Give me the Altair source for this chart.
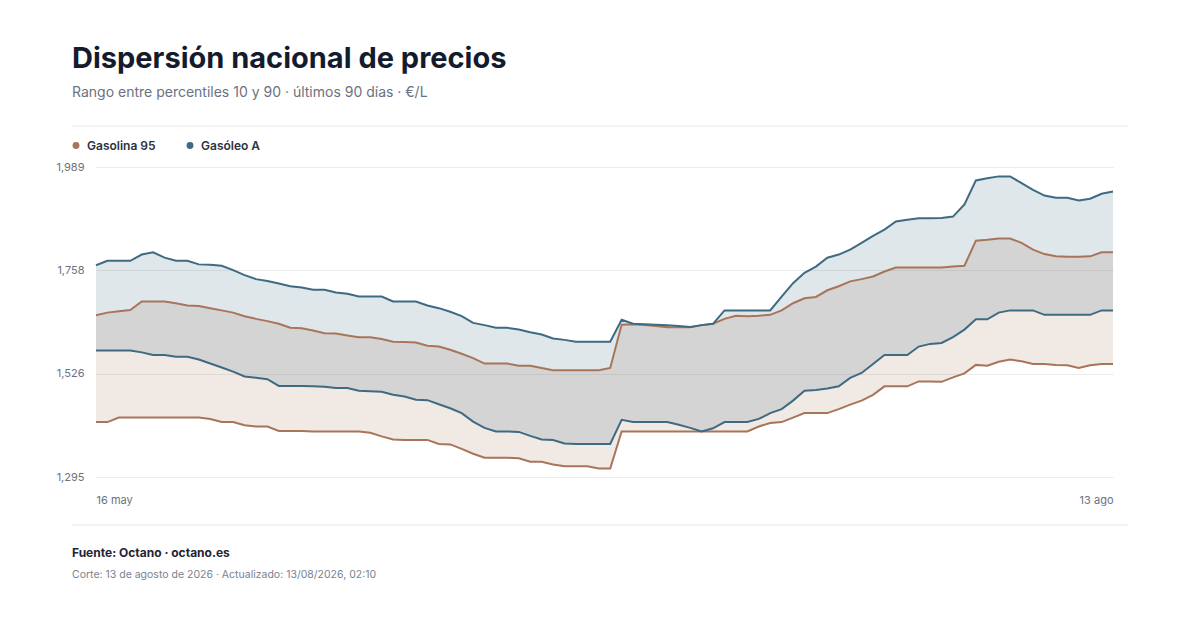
import altair as alt
import pandas as pd

# 90 daily points, 16 may -> 13 ago 2026
dates = pd.date_range("2026-05-16", periods=90, freq="D")

fuels = ["Gasolina 95", "Gasóleo A"]
fuel_colors = ["#a8745a", "#3e6a82"]

gasolina_p10 = [1.418, 1.418, 1.428, 1.428, 1.428, 1.428, 1.428, 1.428, 1.428, 1.428,
                1.425, 1.418, 1.418, 1.411, 1.408, 1.408, 1.398, 1.398, 1.398, 1.397,
                1.397, 1.397, 1.397, 1.397, 1.394, 1.386, 1.379, 1.378, 1.378, 1.378,
                1.369, 1.368, 1.358, 1.347, 1.338, 1.338, 1.338, 1.337, 1.329, 1.329,
                1.323, 1.319, 1.319, 1.319, 1.314, 1.314, 1.397, 1.397, 1.397, 1.397,
                1.397, 1.397, 1.397, 1.397, 1.397, 1.397, 1.397, 1.397, 1.408, 1.416,
                1.418, 1.428, 1.438, 1.438, 1.438, 1.447, 1.457, 1.466, 1.479, 1.498,
                1.498, 1.498, 1.509, 1.509, 1.508, 1.518, 1.527, 1.546, 1.544, 1.553,
                1.558, 1.554, 1.548, 1.548, 1.546, 1.545, 1.539, 1.545, 1.548, 1.548]

gasolina_p90 = [1.657, 1.663, 1.666, 1.669, 1.688, 1.688, 1.688, 1.684, 1.679, 1.678,
                1.673, 1.668, 1.663, 1.655, 1.649, 1.644, 1.638, 1.629, 1.628, 1.623,
                1.617, 1.616, 1.612, 1.608, 1.608, 1.604, 1.598, 1.597, 1.596, 1.589,
                1.587, 1.580, 1.571, 1.561, 1.549, 1.549, 1.549, 1.544, 1.544, 1.539,
                1.534, 1.534, 1.534, 1.534, 1.534, 1.539, 1.636, 1.637, 1.635, 1.633,
                1.630, 1.630, 1.630, 1.635, 1.638, 1.649, 1.656, 1.655, 1.656, 1.658,
                1.668, 1.684, 1.695, 1.698, 1.713, 1.722, 1.733, 1.738, 1.744, 1.755,
                1.764, 1.764, 1.764, 1.764, 1.764, 1.766, 1.768, 1.824, 1.826, 1.829,
                1.829, 1.819, 1.804, 1.794, 1.789, 1.788, 1.788, 1.789, 1.798, 1.798]

gasoleo_p10 = [1.578, 1.578, 1.578, 1.578, 1.574, 1.568, 1.568, 1.564, 1.564, 1.558,
               1.549, 1.540, 1.531, 1.520, 1.517, 1.514, 1.499, 1.499, 1.499, 1.498,
               1.497, 1.494, 1.494, 1.488, 1.487, 1.486, 1.479, 1.475, 1.468, 1.467,
               1.458, 1.449, 1.438, 1.419, 1.405, 1.397, 1.397, 1.396, 1.387, 1.379,
               1.378, 1.370, 1.369, 1.369, 1.369, 1.369, 1.423, 1.418, 1.418, 1.418,
               1.418, 1.412, 1.405, 1.397, 1.404, 1.418, 1.418, 1.418, 1.425, 1.438,
               1.447, 1.466, 1.488, 1.490, 1.493, 1.498, 1.517, 1.528, 1.548, 1.568,
               1.568, 1.568, 1.587, 1.593, 1.595, 1.608, 1.625, 1.648, 1.648, 1.663,
               1.668, 1.668, 1.668, 1.658, 1.658, 1.658, 1.658, 1.658, 1.668, 1.668]

gasoleo_p90 = [1.769, 1.779, 1.779, 1.779, 1.793, 1.798, 1.786, 1.779, 1.779, 1.771,
               1.770, 1.768, 1.758, 1.747, 1.738, 1.734, 1.728, 1.722, 1.719, 1.714,
               1.714, 1.708, 1.705, 1.699, 1.699, 1.699, 1.688, 1.688, 1.688, 1.679,
               1.673, 1.665, 1.655, 1.640, 1.635, 1.629, 1.629, 1.625, 1.619, 1.614,
               1.605, 1.602, 1.598, 1.598, 1.598, 1.598, 1.647, 1.638, 1.637, 1.636,
               1.635, 1.633, 1.631, 1.635, 1.638, 1.668, 1.668, 1.668, 1.668, 1.668,
               1.699, 1.729, 1.752, 1.766, 1.786, 1.793, 1.804, 1.819, 1.835, 1.849,
               1.867, 1.871, 1.874, 1.874, 1.875, 1.878, 1.905, 1.959, 1.964, 1.968,
               1.968, 1.953, 1.938, 1.925, 1.920, 1.920, 1.914, 1.918, 1.929, 1.934]

y_ticks = [1.295, 1.5263, 1.7577, 1.989]

FONT = "Inter"
W, H = 1017, 310

df = pd.concat([
    pd.DataFrame({"day": dates, "fuel": fuels[0], "p10": gasolina_p10, "p90": gasolina_p90}),
    pd.DataFrame({"day": dates, "fuel": fuels[1], "p10": gasoleo_p10, "p90": gasoleo_p90}),
])

color = alt.Color("fuel:N", scale=alt.Scale(domain=fuels, range=fuel_colors), legend=None)

x = alt.X("day:T", title=None, scale=alt.Scale(nice=False),
          axis=alt.Axis(values=[alt.DateTime(year=2026, month=5, date=16),
                                alt.DateTime(year=2026, month=8, date=13)],
                        labelExpr="date(datum.value) + ' ' + ['ene','feb','mar','abr','may','jun','jul','ago','sep','oct','nov','dic'][month(datum.value)]",
                        labelFlush=True, grid=False, domain=False, ticks=False,
                        labelPadding=17, labelFontSize=11, labelColor="#6b7280",
                        labelFont=FONT))

y_axis = alt.Axis(values=y_ticks, format=".3f",
                  labelExpr="replace(datum.label, '.', ',')",
                  grid=True, gridColor="#ebebeb", domain=False, ticks=False,
                  labelPadding=12, labelFontSize=11, labelColor="#6b7280",
                  labelFont=FONT, title=None)
y_scale = alt.Scale(domain=[1.295, 1.989], nice=False, zero=False)

base = alt.Chart(df)

bands = base.mark_area(opacity=0.16).encode(
    x=x,
    y=alt.Y("p10:Q", scale=y_scale, axis=y_axis),
    y2="p90:Q",
    color=color,
)

low = base.mark_line(strokeWidth=2).encode(x=x, y=alt.Y("p10:Q", scale=y_scale), color=color)
high = base.mark_line(strokeWidth=2).encode(x=x, y=alt.Y("p90:Q", scale=y_scale), color=color)

one = alt.Data(values=[{}])


def label(text, px, py, size, weight, col):
    return alt.Chart(one).mark_text(
        text=text, align="left", baseline="alphabetic", font=FONT,
        fontSize=size, fontWeight=weight, color=col
    ).encode(x=alt.value(px), y=alt.value(py))


def hrule(py):
    return alt.Chart(one).mark_rule(color="#e8e8e8", strokeWidth=1).encode(
        x=alt.value(-24), x2=alt.value(1032), y=alt.value(py))


def dot(px, col):
    return alt.Chart(one).mark_circle(size=48, color=col, opacity=1).encode(
        x=alt.value(px), y=alt.value(-21.5))


chart = alt.layer(
    bands, low, high,
    label("Dispersión nacional de precios", -24, -99, 29, 700, "#141b2d"),
    label("Rango entre percentiles 10 y 90 · últimos 90 días · €/L", -24, -70, 14, 400, "#6b7280"),
    hrule(-41),
    dot(-20, fuel_colors[0]),
    label("Gasolina 95", -9, -17, 12, 600, "#2d3340"),
    dot(94, fuel_colors[1]),
    label("Gasóleo A", 105, -17, 12, 600, "#2d3340"),
    hrule(358),
    label("Fuente: Octano · octano.es", -24, 390, 12, 700, "#1f2533"),
    label("Corte: 13 de agosto de 2026 · Actualizado: 13/08/2026, 02:10", -24, 411, 10.5, 400, "#7b8190"),
).properties(
    width=W, height=H,
    autosize=alt.AutoSizeParams(type="none"),
    padding={"left": 88, "top": 159, "right": 79, "bottom": 138},
    background="white",
).configure_view(stroke=None)

chart.save("out.html", embed_options={"renderer": "svg", "actions": False})
